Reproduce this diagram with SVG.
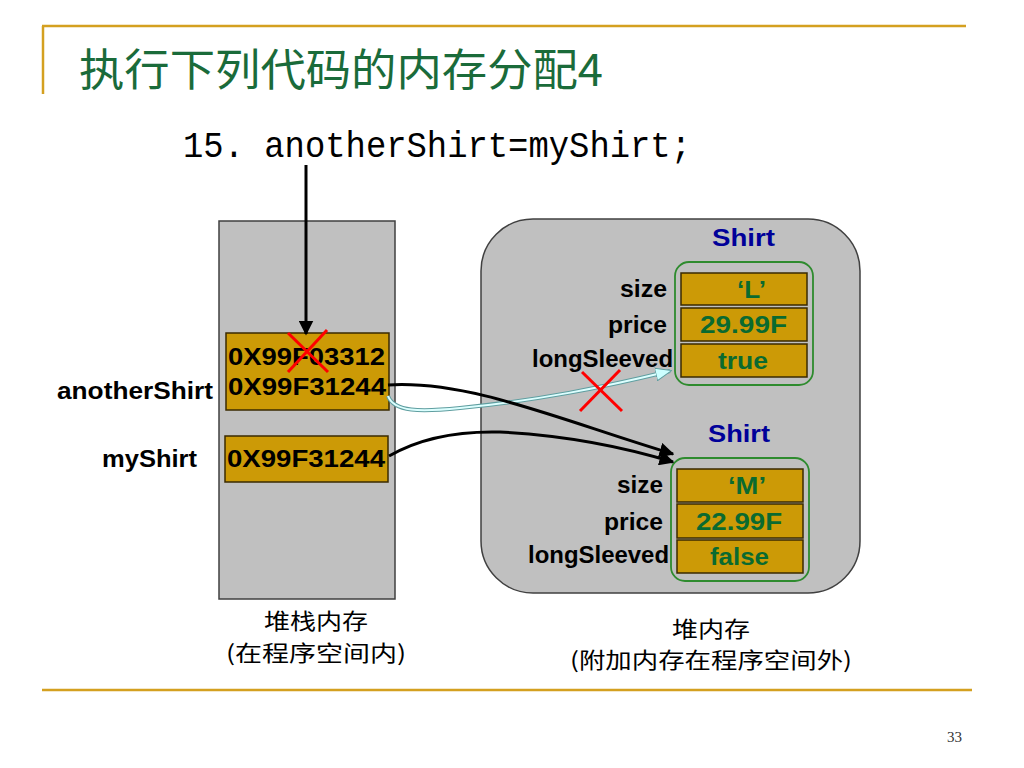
<svg xmlns="http://www.w3.org/2000/svg" width="1024" height="768" viewBox="0 0 1024 768">
<defs>
<style>
.rule{stroke:#D4A020;stroke-width:2.5;fill:none}
.mem{fill:#C0C0C0;stroke:#404040;stroke-width:1.5}
.cell{fill:#CC9A06;stroke:#3a2a00;stroke-width:1.5}
.obj{fill:none;stroke:#2E8B2E;stroke-width:1.8}
.lbl{font-family:"Liberation Sans",Arial,sans-serif;font-weight:bold;font-size:23px;fill:#000}
.addr{font-family:"Liberation Sans",Arial,sans-serif;font-weight:bold;font-size:24px;fill:#000}
.val{font-family:"Liberation Sans",Arial,sans-serif;font-weight:bold;font-size:24px;fill:#0A6A30}
.cls{font-family:"Liberation Sans",Arial,sans-serif;font-weight:bold;font-size:23px;fill:#000099}
.cap{font-family:"Noto Sans CJK SC","Liberation Sans",sans-serif;font-size:22px;fill:#000}
.x{stroke:#FF0000;stroke-width:3}
.conn{fill:none;stroke:#000;stroke-width:3}
</style>
<marker id="ah" viewBox="0 0 10 10" refX="9" refY="5" markerWidth="5" markerHeight="5" orient="auto" markerUnits="strokeWidth">
<path d="M0,0 L10,5 L0,10 z" fill="#000"/>
</marker>
<marker id="ahc" viewBox="0 0 10 10" refX="9" refY="5" markerWidth="8" markerHeight="8" orient="auto" markerUnits="strokeWidth">
<path d="M0,1 L10,5 L0,9 z" fill="#CCFFFF" stroke="#5F9EA0" stroke-width="0.6"/>
</marker>
</defs>
<rect width="1024" height="768" fill="#fff"/>

<g id="header">
<line class="rule" x1="42" y1="26" x2="966" y2="26"/>
<line class="rule" x1="43" y1="26" x2="43" y2="94"/>
<text x="79" y="86" font-family="Noto Sans CJK SC,sans-serif" font-size="44" fill="#1A6B3A" textLength="524" lengthAdjust="spacingAndGlyphs">执行下列代码的内存分配4</text>
<text x="183" y="157" font-family="Liberation Mono,monospace" font-size="36" fill="#000" textLength="508" lengthAdjust="spacingAndGlyphs">15. anotherShirt=myShirt;</text>
</g>

<g id="stack">
<rect class="mem" x="219" y="221" width="176" height="378"/>
<text class="cap" x="316" y="629" text-anchor="middle" textLength="104" lengthAdjust="spacingAndGlyphs">堆栈内存</text>
<text class="cap" x="316" y="661" text-anchor="middle" textLength="180" lengthAdjust="spacingAndGlyphs">(在程序空间内)</text>
</g>

<g id="anotherShirt">
<rect class="cell" x="226" y="333" width="163" height="77"/>
<text class="addr" x="228" y="365" textLength="157" lengthAdjust="spacingAndGlyphs">0X99F03312</text>
<text class="addr" x="228" y="395" textLength="158" lengthAdjust="spacingAndGlyphs">0X99F31244</text>
<text class="lbl" x="57" y="399" textLength="156" lengthAdjust="spacingAndGlyphs">anotherShirt</text>
</g>

<g id="myShirt">
<rect class="cell" x="225" y="436" width="163" height="46"/>
<text class="addr" x="227" y="467" textLength="158" lengthAdjust="spacingAndGlyphs">0X99F31244</text>
<text class="lbl" x="102" y="467" textLength="95" lengthAdjust="spacingAndGlyphs">myShirt</text>
</g>

<g id="heap">
<rect class="mem" x="481" y="219" width="379" height="374" rx="52" ry="52"/>
<text class="cap" x="711" y="637" text-anchor="middle" textLength="78" lengthAdjust="spacingAndGlyphs">堆内存</text>
<text class="cap" x="711" y="668" text-anchor="middle" textLength="282" lengthAdjust="spacingAndGlyphs">(附加内存在程序空间外)</text>
</g>

<g id="shirtL">
<text class="cls" x="712" y="246" textLength="63" lengthAdjust="spacingAndGlyphs">Shirt</text>
<rect class="obj" x="675" y="262" width="138" height="123" rx="14" ry="14"/>
<rect class="cell" x="681" y="273" width="126" height="32"/>
<rect class="cell" x="681" y="308" width="126" height="33"/>
<rect class="cell" x="681" y="344" width="126" height="33"/>
<text class="val" x="737" y="298" textLength="29" lengthAdjust="spacingAndGlyphs">‘L’</text>
<text class="val" x="700" y="333" textLength="87" lengthAdjust="spacingAndGlyphs">29.99F</text>
<text class="val" x="718" y="369" textLength="50" lengthAdjust="spacingAndGlyphs">true</text>
<text class="lbl" x="667" y="297" text-anchor="end" textLength="47" lengthAdjust="spacingAndGlyphs">size</text>
<text class="lbl" x="667" y="333" text-anchor="end" textLength="59" lengthAdjust="spacingAndGlyphs">price</text>
<text class="lbl" x="673" y="367" text-anchor="end" textLength="141" lengthAdjust="spacingAndGlyphs">longSleeved</text>
</g>

<g id="shirtM">
<text class="cls" x="708" y="442" textLength="62" lengthAdjust="spacingAndGlyphs">Shirt</text>
<rect class="obj" x="671" y="458" width="138" height="123" rx="14" ry="14"/>
<rect class="cell" x="677" y="469" width="126" height="33"/>
<rect class="cell" x="677" y="504" width="126" height="34"/>
<rect class="cell" x="677" y="540" width="126" height="33"/>
<text class="val" x="728" y="494" textLength="38" lengthAdjust="spacingAndGlyphs">‘M’</text>
<text class="val" x="696" y="530" textLength="86" lengthAdjust="spacingAndGlyphs">22.99F</text>
<text class="val" x="710" y="565" textLength="59" lengthAdjust="spacingAndGlyphs">false</text>
<text class="lbl" x="663" y="493" text-anchor="end" textLength="46" lengthAdjust="spacingAndGlyphs">size</text>
<text class="lbl" x="663" y="530" text-anchor="end" textLength="59" lengthAdjust="spacingAndGlyphs">price</text>
<text class="lbl" x="669" y="563" text-anchor="end" textLength="141" lengthAdjust="spacingAndGlyphs">longSleeved</text>
</g>

<g id="connectors">
<line x1="306" y1="165" x2="306" y2="334" stroke="#000" stroke-width="3" marker-end="url(#ah)"/>
<path d="M388,396 C394,412 420,412 460,408 C540,400 600,388 670,371" fill="none" stroke="#5F9EA0" stroke-width="4"/>
<path d="M388,396 C394,412 420,412 460,408 C540,400 600,388 670,371" fill="none" stroke="#DDFFFF" stroke-width="2" marker-end="url(#ahc)"/>
<path class="conn" d="M388,385 C470,380 560,420 673,454" marker-end="url(#ah)"/>
<path class="conn" d="M389,456 C420,438 460,431 500,432 C580,436 640,452 673,462" marker-end="url(#ah)"/>
<line class="x" x1="288" y1="333" x2="328" y2="372"/>
<line class="x" x1="327" y1="330" x2="288" y2="372"/>
<line class="x" x1="582" y1="372" x2="622" y2="411"/>
<line class="x" x1="620" y1="370" x2="580" y2="411"/>
</g>

<g id="footer">
<line class="rule" x1="42" y1="690" x2="972" y2="690"/>
<text x="962" y="742" text-anchor="end" font-family="Liberation Serif,serif" font-size="15" fill="#333">33</text>
</g>
</svg>
